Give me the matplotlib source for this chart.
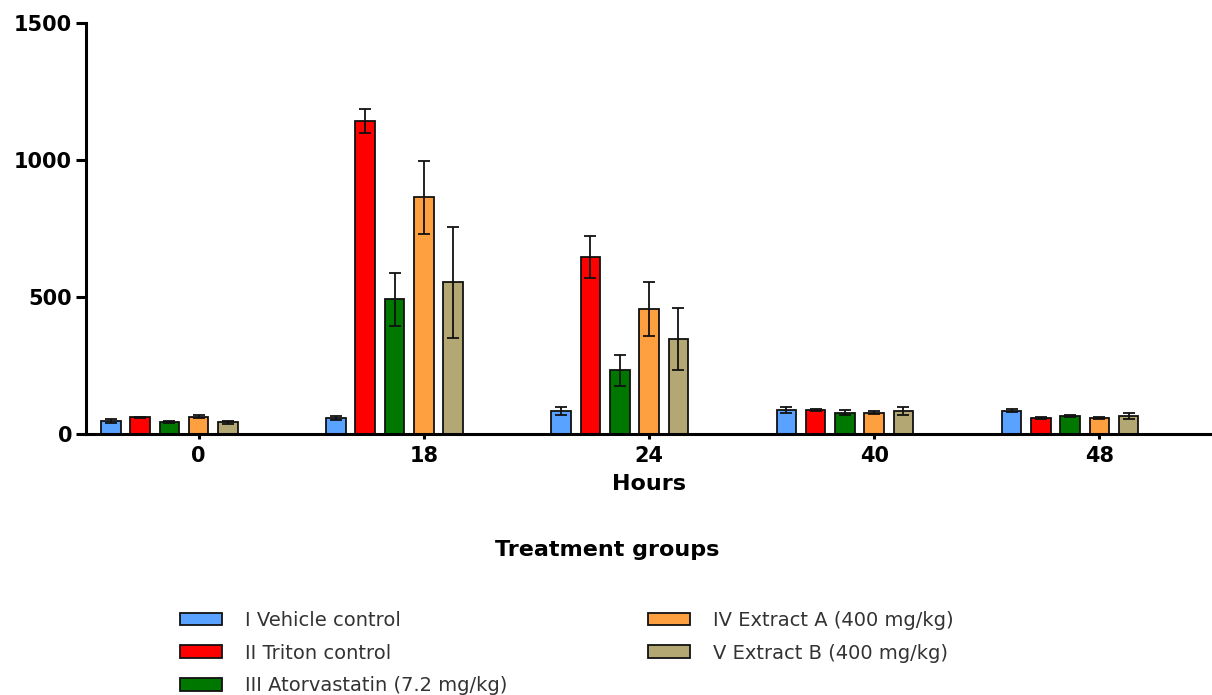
import numpy as np
import matplotlib.pyplot as plt

plt.rcParams['font.family'] = ['DejaVu Sans']

hours = ['0', '18', '24', '40', '48']
groups = ['I Vehicle control', 'II Triton control', 'III Atorvastatin (7.2 mg/kg)',
          'IV Extract A (400 mg/kg)', 'V Extract B (400 mg/kg)']
colors = ['#5aa2ff', '#ff0000', '#007800', '#ffa040', '#b3a874']

# mean and SEM for each group at each time point
vehicle = [48, 59, 84, 88, 85]
vehicle_err = [6, 8, 16, 12, 6]
triton = [61, 1142, 647, 88, 60]
triton_err = [2, 44, 76, 3, 4]
atorva = [43, 492, 232, 78, 67]
atorva_err = [4, 97, 58, 8, 4]
extract_a = [63, 865, 456, 78, 60]
extract_a_err = [5, 133, 99, 5, 4]
extract_b = [43, 554, 348, 84, 67]
extract_b_err = [5, 203, 114, 16, 11]

means = [vehicle, triton, atorva, extract_a, extract_b]
errs = [vehicle_err, triton_err, atorva_err, extract_a_err, extract_b_err]

fig = plt.figure(figsize=(12.12, 6.95), dpi=100)
ax = fig.add_axes([0.071, 0.3755, 0.929, 0.591])

x = np.arange(len(hours))
step = 0.13
width = 0.087
bars = []
for i in range(len(groups)):
    b = ax.bar(x + (i - 3) * step, means[i], width, yerr=errs[i], color=colors[i],
               edgecolor='#111111', linewidth=1.3, label=groups[i],
               error_kw=dict(ecolor='#111111', elinewidth=1.3, capsize=4.3, capthick=1.3))
    bars.append(b)

ax.set_xlim(-0.5, 4.5)
ax.set_ylim(0, 1500)
ax.set_yticks([0, 500, 1000, 1500])
ax.set_xticks(x)
ax.set_xticklabels(hours)
for s in ['top', 'right']:
    ax.spines[s].set_visible(False)
for s in ['left', 'bottom']:
    ax.spines[s].set_linewidth(2.2)
ax.tick_params(axis='y', direction='out', length=7, width=2.2, labelsize=15, pad=3)
ax.tick_params(axis='x', direction='out', length=3.6, width=2.2, labelsize=15, pad=5)
for lbl in ax.get_xticklabels() + ax.get_yticklabels():
    lbl.set_fontweight('bold')

ax.set_xlabel('Hours', fontsize=16, fontweight='bold', labelpad=6)
fig.text(0.501, 0.209, 'Treatment groups', ha='center', va='center',
         fontsize=16, fontweight='bold')

# legend split into two columns placed by hand
leg_kw = dict(loc='upper left', frameon=False, fontsize=14, handlelength=2.16,
              handleheight=0.62, handletextpad=1.18, labelspacing=0.7,
              labelcolor='#333333', borderpad=0, borderaxespad=0)
leg1 = fig.legend(bars[:3], groups[:3], bbox_to_anchor=(0.1485, 0.121), **leg_kw)
fig.legend(bars[3:], groups[3:], bbox_to_anchor=(0.5347, 0.121), **leg_kw)

fig.savefig('out.png', dpi=100)
